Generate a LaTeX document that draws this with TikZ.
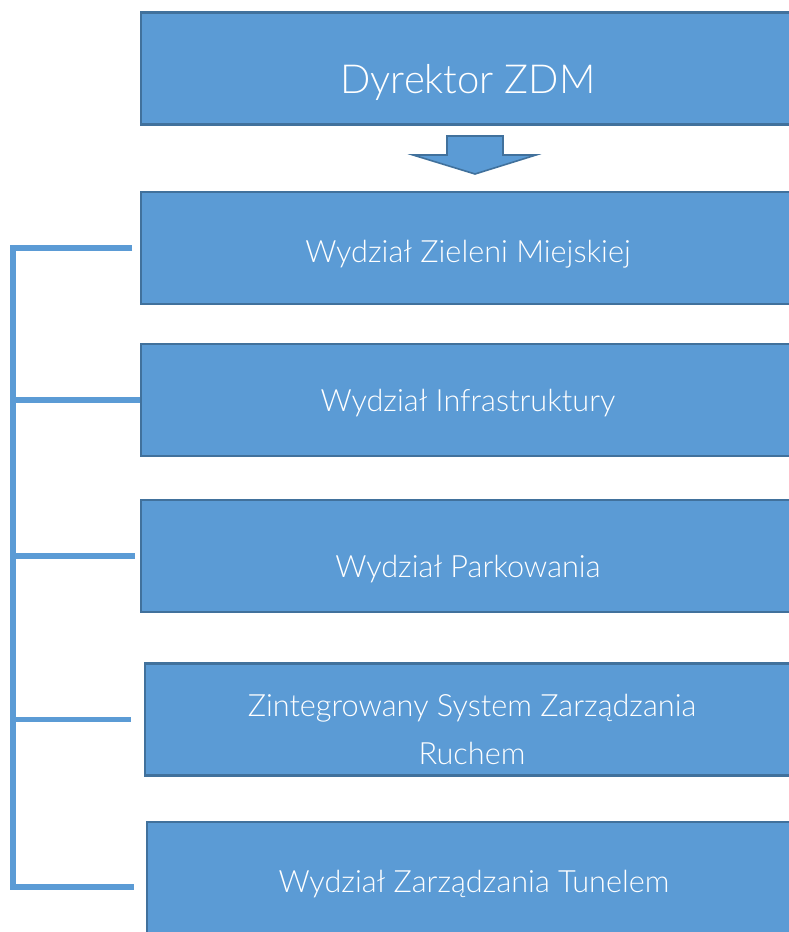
\documentclass[tikz,border=0pt]{standalone}
\usepackage{fontspec}
\setmainfont{Lato Light}
\usepackage{tikz}
\usepackage{xcolor}
\usetikzlibrary{positioning, calc}
\definecolor{ZDMBlue}{HTML}{5B9BD5}
\definecolor{ZDMEdge}{HTML}{41719C}
\definecolor{ZDMWhite}{HTML}{FFFFFF}
\tikzset{
    unitbox/.style={
        draw=ZDMEdge,
        fill=ZDMBlue,
        line width=1.6pt,
        minimum width=490pt,
        minimum height=84pt,
        text=ZDMWhite,
        font=\fontsize{23}{36}\selectfont,
        align=center,
        text depth=0pt,
        text height=#1,
        inner sep=0pt
    },
    unitbox/.default=20pt,
    headbox/.style={
        unitbox=#1,
        font=\fontsize{30}{36}\selectfont
    },
    bracket/.style={
        draw=ZDMBlue,
        line width=3.8pt
    },
    blockarrow/.style={
        draw=ZDMEdge,
        fill=ZDMBlue,
        line width=1.2pt,
        line join=miter
    }
}

\begin{document}
\begin{tikzpicture}[x=0.75pt, y=-0.75pt]
        \clip (0,0) rectangle (789,932);
        % Head
        \node[headbox=38pt] (dyrektor) at (468,68.5) {Dyrektor ZDM};

        % Down arrow
        \coordinate (arw) at (475,136);
        \draw[blockarrow] ($(arw)+(-28,0)$) -- ($(arw)+(28,0)$) -- ($(arw)+(28,19)$) -- ($(arw)+(61,19)$)
            -- ($(arw)+(0,38)$) -- ($(arw)+(-62,19)$) -- ($(arw)+(-28,19)$) -- cycle;

        % Departments
        \node[unitbox=21pt] (zielen) at (468,248) {Wydział Zieleni Miejskiej};
        \node[unitbox=16.5pt] (infra) at (468,400) {Wydział Infrastruktury};
        \node[unitbox=31.5pt] (parking) at (468,556) {Wydział Parkowania};
        \node[unitbox=68pt] (zsr) at (472,719.5) {Zintegrowany System Zarządzania\\Ruchem};
        \node[unitbox=7.5pt, minimum height=97.5pt] (tunel) at (474,887) {Wydział Zarządzania Tunelem};

        % Left bracket
        \coordinate (rail) at (13,0);
        \draw[bracket] ([xshift=-6]zielen.west) -- (zielen.west -| rail) -- (tunel.west -| rail) -- ([xshift=-9]tunel.west);
        \draw[bracket] (infra.west -| rail) -- (infra.west);
        \draw[bracket] (parking.west -| rail) -- ([xshift=-4]parking.west);
        \draw[bracket] (zsr.west -| rail) -- ([xshift=-10]zsr.west);
    \end{tikzpicture}
\end{document}
